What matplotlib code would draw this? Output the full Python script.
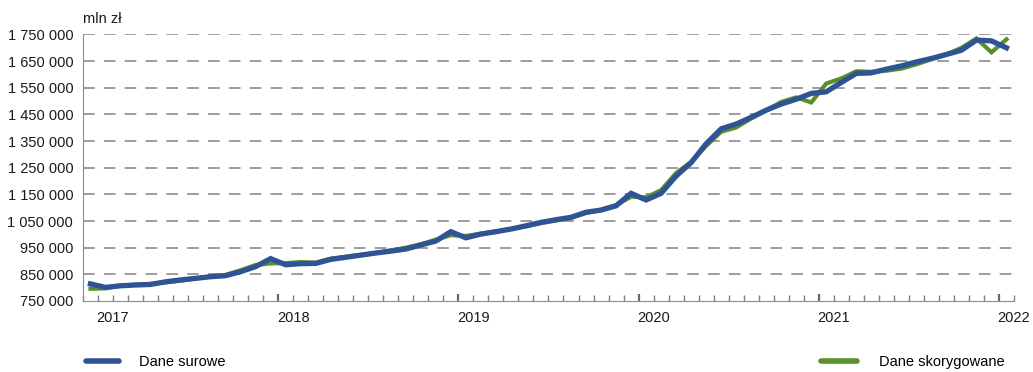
import numpy as np
import matplotlib
matplotlib.use("Agg")
import matplotlib.pyplot as plt
from matplotlib.lines import Line2D

plt.rcParams['font.family'] = ['Liberation Sans', 'DejaVu Sans']

# monthly data, Dec 2016 - Jan 2022, mln zl
raw = [814, 801, 807, 810, 812, 822, 829, 835, 841, 845, 860, 879, 909,
       886, 890, 891, 906, 914, 922, 930, 937, 945, 960, 975, 1010,
       987, 1001, 1010, 1020, 1032, 1045, 1055, 1064, 1083, 1091, 1107, 1154,
       1129, 1154, 1219, 1269, 1340, 1396, 1414, 1439, 1466, 1489, 1507, 1529,
       1535, 1570, 1604, 1606, 1620, 1632, 1647, 1660, 1675, 1691, 1729, 1726,
       1700]
adjusted = [796, 797, 808, 811, 814, 820, 826, 834, 842, 848, 865, 885, 891,
            892, 896, 894, 909, 916, 923, 930, 940, 950, 963, 980, 997,
            994, 1003, 1011, 1020, 1030, 1042, 1052, 1062, 1080, 1093, 1110, 1141,
            1139, 1166, 1230, 1272, 1332, 1385, 1401, 1435, 1465, 1497, 1514, 1495,
            1566, 1585, 1612, 1610, 1614, 1622, 1638, 1657, 1675, 1700, 1735, 1683,
            1732]
years = ['2017', '2018', '2019', '2020', '2021', '2022']
y_ticks = [750000, 850000, 950000, 1050000, 1150000, 1250000, 1350000,
           1450000, 1550000, 1650000, 1750000]

raw = np.array(raw) * 1000
adjusted = np.array(adjusted) * 1000
x = np.arange(len(raw)) + 0.5

blue = '#2F5496'
green = '#5B8F2A'
fs = 10.5

fig = plt.figure(figsize=(10.33, 3.72), dpi=100)
ax = fig.add_axes([0.0803, 0.1909, 0.9013, 0.7164])

l2, = ax.plot(x, adjusted, color=green, lw=3.0, solid_joinstyle='miter', clip_on=False, zorder=3)
l1, = ax.plot(x, raw, color=blue, lw=3.8, solid_joinstyle='miter', clip_on=False, zorder=4)

ax.set_xlim(0, len(raw))
ax.set_ylim(750000, 1750000)

ax.set_yticks(y_ticks)
ax.set_yticklabels(['{:,}'.format(v).replace(',', ' ') for v in y_ticks])
ax.tick_params(axis='y', length=0, pad=7, labelsize=fs, labelcolor='#1a1a1a')

ax.set_xticks(np.arange(0, len(raw) + 1), minor=True)
ax.set_xticks([13, 25, 37, 49, 61])
ax.set_xticklabels([])
ax.tick_params(axis='x', which='minor', direction='in', length=4.5, width=1.0, color='#7f7f7f')
ax.tick_params(axis='x', which='major', direction='in', length=5, width=1.6, color='#6a6a6a')

for i, yr in enumerate(years):
    ax.text(2 + 12 * i, -0.065, yr, transform=ax.get_xaxis_transform(),
            ha='center', va='center', fontsize=fs, color='#1a1a1a')

ax.grid(axis='y', color='#8c8c8c', lw=1.2, dashes=(7, 5.5))
ax.yaxis.get_gridlines()[0].set_visible(False)
ax.set_axisbelow(True)
for s in ['top', 'right']:
    ax.spines[s].set_visible(False)
ax.spines['left'].set_color('#8c8c8c')
ax.spines['bottom'].set_color('#8c8c8c')

fig.text(0.0803, 0.95, 'mln zł', fontsize=fs, color='#1a1a1a', va='center', ha='left')

h1 = Line2D([], [], color=blue, lw=4, solid_capstyle='round')
h2 = Line2D([], [], color=green, lw=4, solid_capstyle='round')
leg1 = fig.legend([h1], ['Dane surowe'], loc='center left', bbox_to_anchor=(0.071, 0.027),
                  frameon=False, fontsize=fs, handlelength=2.2, handletextpad=1.4)
leg2 = fig.legend([h2], ['Dane skorygowane'], loc='center left', bbox_to_anchor=(0.782, 0.027),
                  frameon=False, fontsize=fs, handlelength=2.5, handletextpad=1.5)

fig.savefig('out.png', dpi=100)
